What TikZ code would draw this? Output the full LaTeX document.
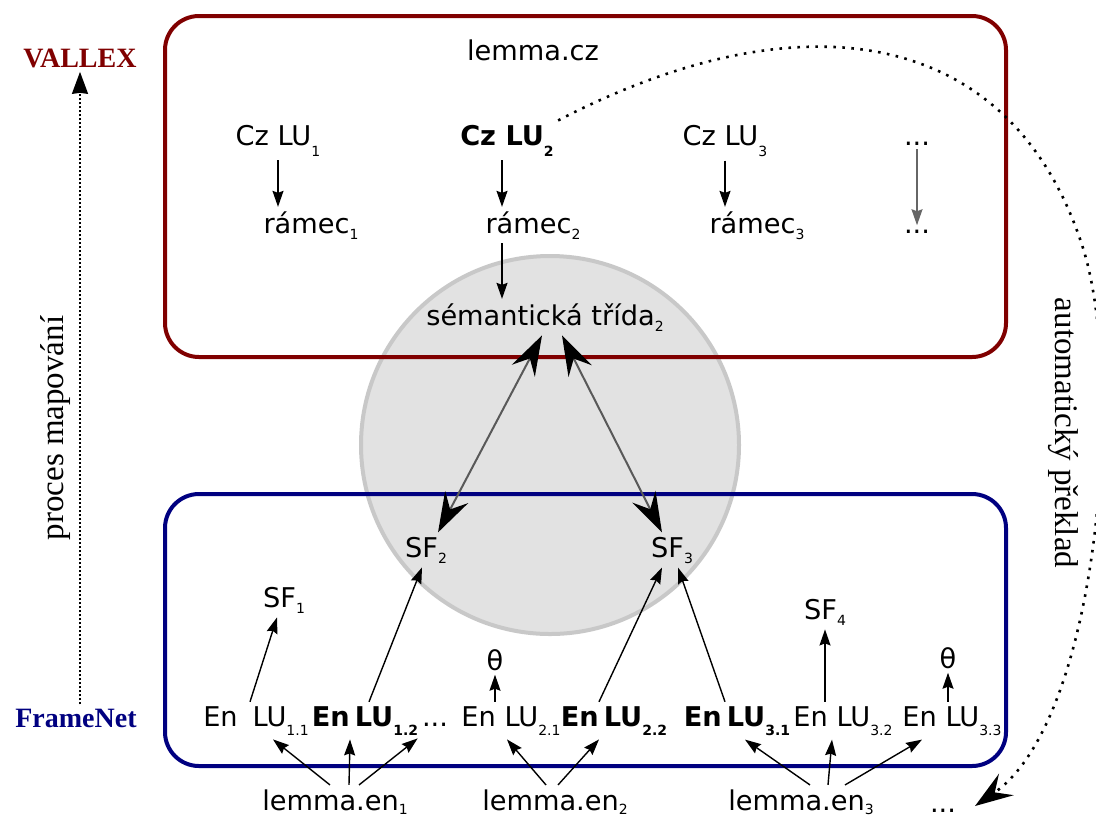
\documentclass[tikz,border=0pt]{standalone}
\usepackage{fontspec}
\setmainfont{DejaVu Sans}
\newfontfamily\labelserif{Liberation Serif}
\usetikzlibrary{arrows.meta}
\definecolor{vallexred}{RGB}{128,0,0}
\definecolor{fnblue}{RGB}{0,0,128}
\definecolor{discfill}{RGB}{226,226,226}
\definecolor{discline}{RGB}{200,200,200}
\newcommand{\lowsub}[2][3pt]{\raisebox{-#1}{\fontsize{7}{7}\selectfont #2}}
\newcommand{\boldlu}[1]{\textbf{En\hspace{2.5pt}LU\lowsub[4.5pt]{#1}}}

\begin{document}
\begin{tikzpicture}[x=0.5pt,y=-0.5pt,
  font=\fontsize{13.6}{16}\selectfont,
  every node/.style={inner sep=2pt,anchor=base},
  arr/.style={-{Stealth[length=8pt,width=5.5pt,inset=1pt]},line width=0.7pt},
  bigarr/.style={{Stealth[length=20pt,width=13pt,inset=7pt,color=black]}-{Stealth[length=20pt,width=13pt,inset=7pt,color=black]},line width=1pt,draw=black!65},
  mapline/.style={line width=0.9pt,dash pattern=on 0.9pt off 1.1pt,-{Stealth[length=11pt,width=8pt,inset=0.5pt]}},
  autoline/.style={line width=1.3pt,dash pattern=on 1.3pt off 3.2pt,-{Stealth[length=19pt,width=13pt,inset=7pt]}},
  vxlabel/.style={font=\labelserif\bfseries\fontsize{14}{16}\selectfont,text=vallexred},
  fnlabel/.style={font=\labelserif\bfseries\fontsize{14}{16}\selectfont,text=fnblue},
  sidetext/.style={font=\labelserif\fontsize{16.5}{18}\selectfont},
  disc/.style={fill=discfill,draw=discline,line width=2pt},
  vallexbox/.style={draw=vallexred,line width=2pt,rounded corners=17pt},
  fnbox/.style={draw=fnblue,line width=2pt,rounded corners=17pt}]
\useasboundingbox (0,0) rectangle (1096,816);

% background shapes
\draw[disc] (550,445) circle [radius=189];
\draw[vallexbox] (165,16) rectangle (1006,357);
\draw[fnbox] (165,494) rectangle (1006,766);

% VALLEX side
\node (lcz) at (533,60) {lemma.cz};
\node (cz1) at (278,145) {Cz LU\lowsub[5.5pt]{1}};
\node (cz2) at (507,145) {\textbf{Cz LU\lowsub[5.5pt]{2}}};
\node (cz3) at (725,145) {Cz LU\lowsub[5.5pt]{3}};
\node (czd) at (917,145) {...};
\node (fr1) at (311,233) {rámec\lowsub{1}};
\node (fr2) at (533,233) {rámec\lowsub{2}};
\node (fr3) at (757,233) {rámec\lowsub{3}};
\node (frd) at (917,233) {...};
\node (sem) at (545,325) {sémantická třída\lowsub{2}};

% FrameNet side
\node (sf1) at (284,607) {SF\lowsub{1}};
\node (sf2) at (426,557) {SF\lowsub{2}};
\node (sf3) at (672,557) {SF\lowsub{3}};
\node (sf4) at (825,619) {SF\lowsub{4}};
\node (th1) at (495,670) {θ};
\node (th2) at (948,668) {θ};
\node (lu11) at (256,726) {En\hspace{7.5pt}LU\lowsub[4.5pt]{1.1}};
\node (lu12) at (365,726) {\boldlu{1.2}};
\node (lud) at (435,726) {...};
\node (lu21) at (511,726) {En LU\lowsub[4.5pt]{2.1}};
\node (lu22) at (614,726) {\boldlu{2.2}};
\node (lu31) at (737,726) {\boldlu{3.1}};
\node (lu32) at (843,726) {En LU\lowsub[4.5pt]{3.2}};
\node (lu33) at (952,726) {En LU\lowsub[4.5pt]{3.3}};
\node (len1) at (335,810) {lemma.en\lowsub[2pt]{1}};
\node (len2) at (555,810) {lemma.en\lowsub[2pt]{2}};
\node (len3) at (801,810) {lemma.en\lowsub[2pt]{3}};
\node (endots) at (943,812) {...};

% side labels
\node[vxlabel] (vx) at (80,67) {VALLEX};
\node[fnlabel] (fn) at (76,727) {FrameNet};
\node[sidetext,rotate=90] (map) at (63,428) {proces mapování};
\node[sidetext,rotate=-90] (tr) at (1055,433) {automatický překlad};

% LU -> frame -> class
\coordinate (c2a) at ([xshift=-2.5pt]cz2.south);
\draw[arr] (cz1.south) -- (cz1.south |- fr1.north);
\draw[arr] (c2a) -- (c2a |- fr2.north);
\draw[arr] (cz3.south) -- (cz3.south |- fr3.north);
\draw[arr,draw=black!60] (czd.south) -- (czd.south |- frd.north);
\draw[arr] (c2a |- fr2.south) -- (c2a |- sem.north);

% class <-> SF
\draw[bigarr] ([xshift=-1.5pt]sem.south) -- ([xshift=6pt]sf2.north);
\draw[bigarr] ([xshift=8.5pt]sem.south) -- ([xshift=-5pt]sf3.north);

% En LU -> SF
\draw[arr] ([xshift=-3pt]lu11.north) -- ([xshift=-3.5pt]sf1.south);
\draw[arr] ([xshift=2pt]lu12.north) -- ([xshift=-2pt]sf2.south);
\draw[arr] ([xshift=-8pt]lu21.north) -- (th1.south);
\draw[arr] ([xshift=-7.5pt]lu22.north) -- ([xshift=-5pt]sf3.south);
\draw[arr] ([xshift=-6pt]lu31.north) -- ([xshift=3pt]sf3.south);
\draw[arr] (lu32.north -| sf4.south) -- (sf4.south);
\draw[arr] (lu33.north -| th2.south) -- (th2.south);

% lemma -> En LU
\draw[arr] ([xshift=-2.5pt]len1.north) -- ([xshift=8.5pt]lu11.south);
\draw[arr] ([xshift=7pt]len1.north) -- ([xshift=-7.5pt]lu12.south);
\draw[arr] ([xshift=12pt]len1.north) -- ([yshift=-4pt]lud.south west);
\draw[arr] ([xshift=-4.5pt]len2.north) -- ([xshift=-2pt]lu21.south);
\draw[arr] ([xshift=1.5pt]len2.north) -- ([xshift=-7.5pt]lu22.south);
\draw[arr] ([xshift=4.5pt]len3.north) -- ([xshift=4pt]lu31.south);
\draw[arr] ([xshift=13.5pt]len3.north) -- ([xshift=-5.5pt]lu32.south);
\draw[arr] ([xshift=22pt]len3.north) -- ([xshift=-15pt]lu33.south);

% mapping and translation
\draw[mapline] (fn.north -| vx.south) -- (vx.south);
\coordinate (trend) at (975,806);
\draw[autoline] (cz2.north east) .. controls (800,-5) and (1010,25) .. (1082,245)
  .. controls (1125,374) and (1100,720) .. (trend);
\end{tikzpicture}
\end{document}
